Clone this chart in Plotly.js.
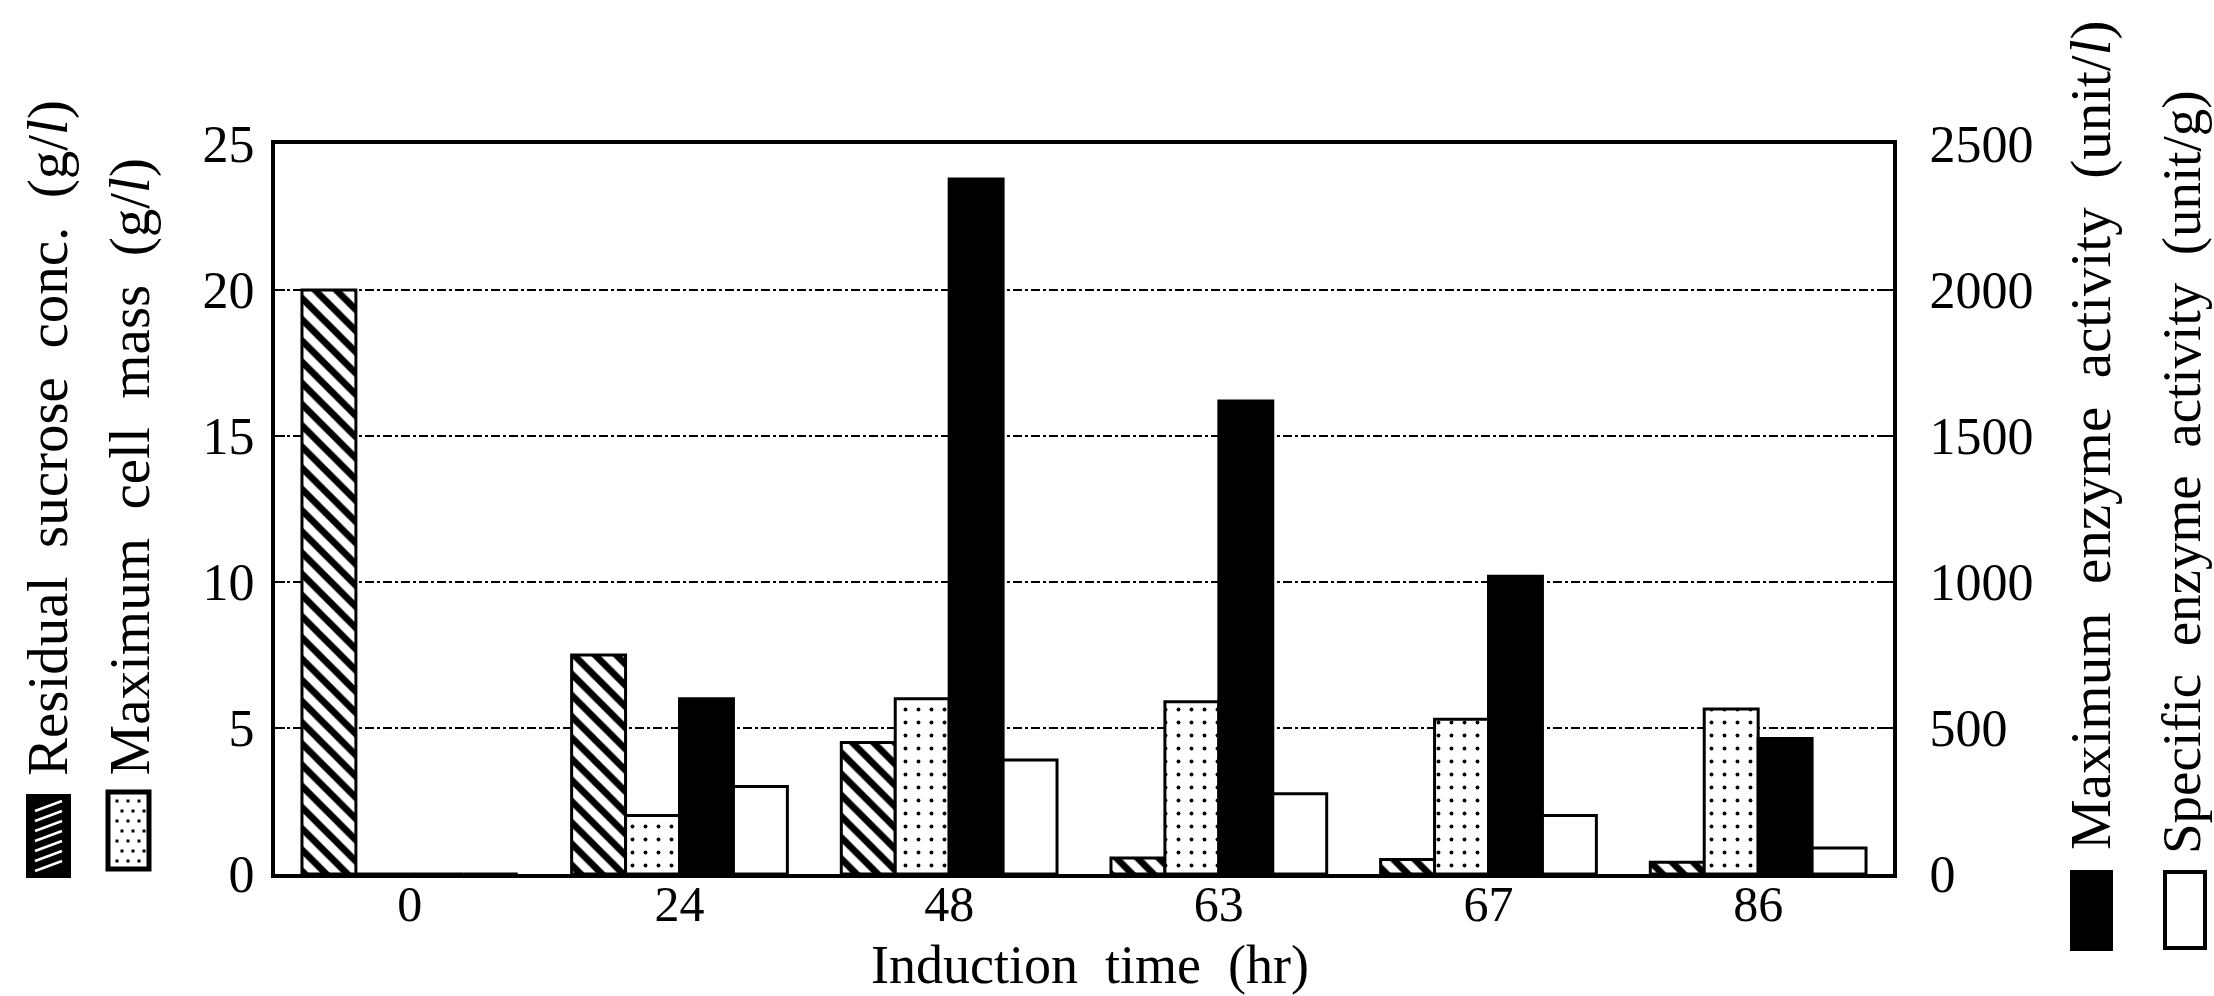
<!DOCTYPE html>
<html>
<head>
<meta charset="utf-8">
<script src="https://cdn.plot.ly/plotly-3.0.1.min.js"></script>
<style>
html,body{margin:0;padding:0;background:#fff;}
#chart{width:2214px;height:996px;}
</style>
</head>
<body>
<div id="chart"></div>
<script>
// ---- data ----
const categories = ['0', '24', '48', '63', '67', '86'];          // Induction time (hr)
const residualSucrose = [20, 7.5, 4.5, 0.55, 0.5, 0.4];          // g/l (left axis)
const maxCellMass = [0, 2.0, 6.0, 5.9, 5.3, 5.65];               // g/l (left axis)
const maxEnzymeActivity = [0, 600, 2380, 1620, 1020, 464];       // unit/l (right axis)
const specificEnzymeActivity = [0, 300, 390, 275, 200, 89];      // unit/g (right axis)
const leftTicks = [0, 5, 10, 15, 20, 25];
const rightTicks = [0, 500, 1000, 1500, 2000, 2500];

const seriesNames = [
  'Residual sucrose conc. (g/<i>l</i>)',
  'Maximum cell mass (g/<i>l</i>)',
  'Maximum enzyme activity (unit/<i>l</i>)',
  'Specific enzyme activity (unit/g)'
];
const xTitle = 'Induction time (hr)';

// ---- layout helpers ----
const W = 2214, H = 996;
const px = v => v / W;
const py = v => 1 - v / H;
const wide = s => s.split(' ').join('\u00a0\u00a0');
const FONT = 'Liberation Serif, Times New Roman, serif';

const lineBlack = {color: 'black', width: 3};
const traces = [
  {type: 'bar', name: seriesNames[0], x: categories, y: residualSucrose, yaxis: 'y',
   offsetgroup: 's1', alignmentgroup: 'g',
   marker: {color: 'white', line: lineBlack,
            pattern: {shape: '\\', fgcolor: 'black', bgcolor: 'white', size: 15, solidity: 0.45}}},
  {type: 'bar', name: seriesNames[1], x: categories, y: maxCellMass, yaxis: 'y',
   offsetgroup: 's2', alignmentgroup: 'g',
   marker: {color: 'white', line: lineBlack,
            pattern: {shape: '.', fgcolor: 'black', bgcolor: 'white', size: 13, solidity: 0.07}}},
  {type: 'bar', name: seriesNames[2], x: categories, y: maxEnzymeActivity, yaxis: 'y2',
   offsetgroup: 's3', alignmentgroup: 'g',
   marker: {color: 'black', line: lineBlack}},
  {type: 'bar', name: seriesNames[3], x: categories, y: specificEnzymeActivity, yaxis: 'y2',
   offsetgroup: 's4', alignmentgroup: 'g',
   marker: {color: 'white', line: lineBlack}}
];

// legend swatches (decorations drawn as shapes, in pixel->paper coords)
const shapes = [];
function rectPx(x0, y0, x1, y1, fill, lw) {
  shapes.push({type: 'rect', xref: 'paper', yref: 'paper',
    x0: px(x0), x1: px(x1), y0: py(y1), y1: py(y0),
    fillcolor: fill, line: {color: 'black', width: lw}});
}
function linePx(x0, y0, x1, y1, color, w) {
  shapes.push({type: 'line', xref: 'paper', yref: 'paper',
    x0: px(x0), x1: px(x1), y0: py(y0), y1: py(y1), line: {color: color, width: w}});
}
// hatched swatch
rectPx(27, 795, 70, 877, 'black', 2);
for (let k = 0; k < 7; k++) {
  const yc = 806 + k * 10;
  linePx(35, yc + 5, 62, yc - 5, 'white', 2.5);
}
// dotted swatch
rectPx(108, 792, 149, 869, 'white', 5);
for (let r = 0; r < 7; r++) {
  for (let c = 0; c < 3; c++) {
    const xc = 117 + c * 11 + (r % 2) * 5;
    const yc = 801 + r * 10;
    rectPx(xc - 1.5, yc - 1.5, xc + 1.5, yc + 1.5, 'black', 0);
  }
}
// solid black swatch
rectPx(2071, 871, 2112, 950, 'black', 2);
// white swatch
rectPx(2165, 872, 2205, 948, 'white', 4);

const annFont = {family: FONT, size: 57, color: 'black'};
const annotations = [
  {text: wide(seriesNames[0]), x: px(48), y: py(778), xanchor: 'center', yanchor: 'bottom', font: annFont},
  {text: wide(seriesNames[1]), x: px(129), y: py(778), xanchor: 'center', yanchor: 'bottom', font: annFont},
  {text: wide(seriesNames[2]), x: px(2091), y: py(852), xanchor: 'center', yanchor: 'bottom', font: annFont},
  {text: wide(seriesNames[3]), x: px(2181), y: py(856), xanchor: 'center', yanchor: 'bottom',
   font: {family: FONT, size: 55, color: 'black'}}
].map(a => Object.assign(a, {xref: 'paper', yref: 'paper', textangle: -90, showarrow: false}));
// x-axis title, placed below the tick labels
annotations.push({text: wide(xTitle), xref: 'paper', yref: 'paper', x: px(1090), y: py(965),
  xanchor: 'center', yanchor: 'middle', showarrow: false, borderpad: 0,
  font: {family: FONT, size: 54, color: 'black'}});

const tickFont = {family: FONT, size: 52, color: 'black'};
const layout = {
  width: W, height: H,
  margin: {l: 0, r: 0, t: 0, b: 0},
  paper_bgcolor: 'white', plot_bgcolor: 'white',
  showlegend: false,
  barmode: 'group', bargap: 0.2, bargroupgap: 0,
  xaxis: {
    type: 'category', domain: [px(275), px(1893)], range: [-0.5, 5.5],
    showline: true, linecolor: 'black', linewidth: 4, mirror: true,
    ticks: '', showgrid: false, zeroline: false, automargin: false,
    tickfont: {family: FONT, size: 50, color: 'black'}, ticklabelstandoff: -17
  },
  yaxis: {
    domain: [py(874), py(144)], range: [0, 25], tickvals: leftTicks,
    showline: true, linecolor: 'black', linewidth: 4,
    ticks: 'inside', ticklen: 10, tickwidth: 2, tickcolor: 'black',
    showgrid: true, gridcolor: 'black', gridwidth: 2, griddash: 'dashdot',
    zeroline: false, automargin: false, tickfont: tickFont, ticklabelstandoff: 6
  },
  yaxis2: {
    overlaying: 'y', side: 'right', anchor: 'x',
    range: [0, 2500], tickvals: rightTicks,
    showline: true, linecolor: 'black', linewidth: 4,
    ticks: 'inside', ticklen: 10, tickwidth: 2, tickcolor: 'black',
    showgrid: false, zeroline: false, automargin: false,
    tickfont: tickFont, ticklabelstandoff: 22
  },
  shapes: shapes,
  annotations: annotations
};

Plotly.newPlot('chart', traces, layout, {staticPlot: true, displayModeBar: false});
</script>
</body>
</html>
